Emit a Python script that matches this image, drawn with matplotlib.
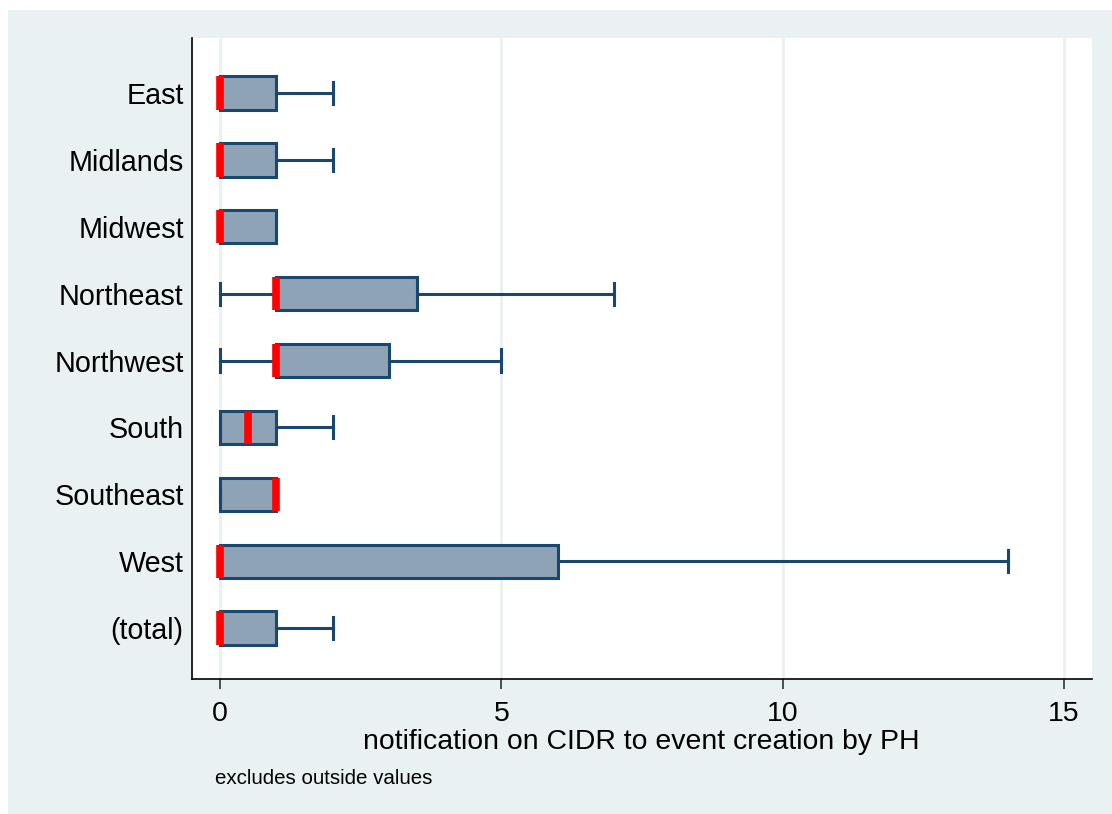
import matplotlib
matplotlib.use("Agg")
import matplotlib.pyplot as plt
from matplotlib.patches import Rectangle

plt.rcParams['font.family'] = ['Liberation Sans', 'DejaVu Sans']

# Box plot summary per region (outside values excluded)
regions = ["East", "Midlands", "Midwest", "Northeast", "Northwest",
           "South", "Southeast", "West", "(total)"]
whisker_lo = [0, 0, 0, 0, 0, 0, 0, 0, 0]
q1 = [0, 0, 0, 1, 1, 0, 0, 0, 0]
median = [0, 0, 0, 1, 1, 0.5, 1, 0, 0]
q3 = [1, 1, 1, 3.5, 3, 1, 1, 6, 1]
whisker_hi = [2, 2, 1, 7, 5, 2, 1, 14, 2]

xticks = [0, 5, 10, 15]

bg = "#EAF1F3"
navy = "#1A476F"
fill = "#8FA3B7"

fig = plt.figure(figsize=(11.12, 8.14), dpi=100)
fig.patch.set_facecolor("white")
fig.patches.append(Rectangle((8 / 1112, 0), 1 - 8 / 1112, 1 - 10 / 814,
                             transform=fig.transFigure, facecolor=bg,
                             edgecolor="none", zorder=-10))

ax = fig.add_axes([192 / 1112, 1 - 679 / 814, 900 / 1112, 641 / 814])
ax.set_facecolor("white")

stats = []
for i, name in enumerate(regions):
    stats.append({"label": name, "whislo": whisker_lo[i], "q1": q1[i],
                  "med": median[i], "q3": q3[i], "whishi": whisker_hi[i],
                  "fliers": []})

positions = list(range(1, len(regions) + 1))
ax.bxp(stats, positions=positions, vert=False, widths=0.5, capwidths=0.33,
       patch_artist=True, showfliers=False,
       boxprops=dict(facecolor=fill, edgecolor=navy, linewidth=2.2),
       whiskerprops=dict(color=navy, linewidth=2.2),
       capprops=dict(color=navy, linewidth=2.2),
       medianprops=dict(color="#FF0000", linewidth=5.5, solid_capstyle="butt"),
       zorder=3)

for x in xticks:
    ax.axvline(x, color=bg, linewidth=2.0, zorder=1)

ax.set_xlim(-0.5, 15.5)
ax.set_ylim(9.76, 0.18)
ax.set_xticks(xticks)
ax.set_yticks(positions)
ax.set_yticklabels(regions)

for side in ["top", "right"]:
    ax.spines[side].set_visible(False)
for side in ["left", "bottom"]:
    ax.spines[side].set_color("black")
    ax.spines[side].set_linewidth(1.2)

ax.tick_params(axis="x", length=7, width=1.2, color="#333333", pad=9,
               labelsize=20.5)
ax.tick_params(axis="y", length=0, pad=6, labelsize=20.7)

fig.text(641 / 1112, 1 - 742 / 814, "notification on CIDR to event creation by PH",
         ha="center", va="center", fontsize=20.4)
fig.text(215 / 1112, 1 - 778 / 814, "excludes outside values",
         ha="left", va="center", fontsize=14.8)

fig.savefig("out.png", dpi=100)
